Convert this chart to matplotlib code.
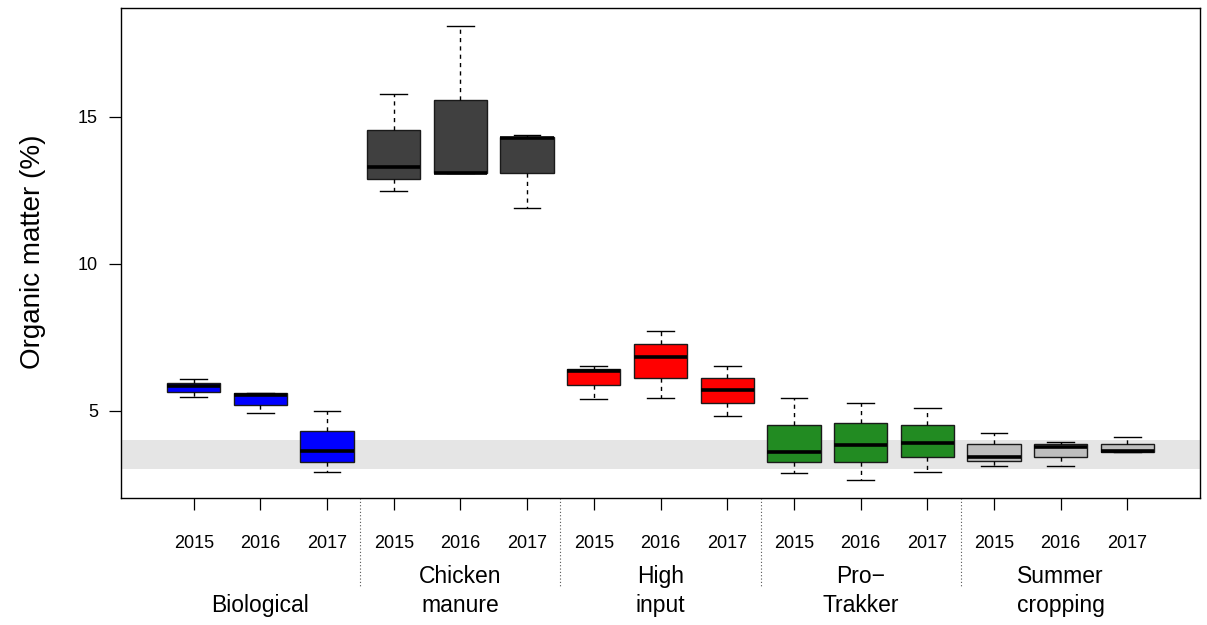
import matplotlib.pyplot as plt
from matplotlib.transforms import blended_transform_factory

plt.rcParams['font.family'] = ['Liberation Sans', 'DejaVu Sans']

# treatments, years and colours
groups = ['Biological', 'Chicken\nmanure', 'High\ninput', 'Pro\u2212\nTrakker', 'Summer\ncropping']
years = ['2015', '2016', '2017']
group_colors = ['#0000FF', '#404040', '#FF0000', '#228B22', '#BEBEBE']

# box statistics, one entry per box (group x year)
whis_lo = [5.46, 4.90, 2.91, 12.49, 13.08, 11.89, 5.40, 5.41, 4.81, 2.86, 2.64, 2.92, 3.12, 3.10, 3.57]
q1 = [5.63, 5.20, 3.26, 12.89, 13.08, 13.08, 5.86, 6.11, 5.25, 3.24, 3.24, 3.41, 3.28, 3.43, 3.57]
med = [5.84, 5.54, 3.62, 13.29, 13.10, 14.29, 6.36, 6.83, 5.70, 3.60, 3.83, 3.91, 3.42, 3.77, 3.61]
q3 = [5.95, 5.58, 4.31, 14.55, 15.59, 14.33, 6.43, 7.27, 6.11, 4.51, 4.56, 4.51, 3.86, 3.86, 3.87]
whis_hi = [6.08, 5.61, 5.00, 15.78, 18.09, 14.39, 6.51, 7.71, 6.51, 5.42, 5.27, 5.10, 4.25, 3.94, 4.11]

# reference band
band = (3, 4)

fig = plt.figure(figsize=(12.07, 6.25), dpi=100)
ax = fig.add_axes([121 / 1207, 1 - 498 / 625, 1079 / 1207, 490 / 625])

ax.axhspan(band[0], band[1], color='#E5E5E5', zorder=0, lw=0)

n = len(med)
pos = list(range(1, n + 1))
stats = [dict(whislo=whis_lo[i], q1=q1[i], med=med[i], q3=q3[i], whishi=whis_hi[i], fliers=[])
         for i in range(n)]
bp = ax.bxp(stats, positions=pos, widths=0.8, capwidths=0.4, patch_artist=True, showfliers=False,
            boxprops=dict(edgecolor='#1a1a1a', linewidth=1.0),
            medianprops=dict(color='black', linewidth=2.6, solid_capstyle='butt'),
            whiskerprops=dict(color='black', linestyle=(0, (3, 3)), linewidth=1.0),
            capprops=dict(color='black', linewidth=1.0))
for i, box in enumerate(bp['boxes']):
    box.set_facecolor(group_colors[i // len(years)])
    box.set_zorder(2)

ax.set_xlim(-0.09, 16.09)
ax.set_ylim(2.02, 18.71)

ax.set_yticks([5, 10, 15])
ax.set_yticklabels(['5', '10', '15'])
ax.set_xticks(pos)
ax.set_xticklabels(years * len(groups))
ax.tick_params(axis='y', length=8.6, width=0.9, labelsize=13, pad=8)
ax.tick_params(axis='x', length=8.6, width=0.9, labelsize=13, pad=18)
for s in ax.spines.values():
    s.set_linewidth(1.0)

trans = blended_transform_factory(ax.transData, ax.transAxes)
# dotted separators between treatments
for k in range(1, len(groups)):
    x = k * len(years) + 0.5
    ax.plot([x, x], [0, -0.182], transform=trans, clip_on=False,
            color='#555555', linestyle=(0, (1, 2)), linewidth=0.8)

# treatment labels, bottom line aligned
line_y = [-0.232, -0.1735]
for k, name in enumerate(groups):
    x = k * len(years) + 2
    for j, line in enumerate(reversed(name.split('\n'))):
        ax.text(x, line_y[j], line, transform=trans, ha='center', va='baseline',
                fontsize=16.5, clip_on=False)

fig.text(33 / 1207, 1 - 251.5 / 625, 'Organic matter (%)', rotation=90,
         ha='center', va='center', fontsize=20)

fig.savefig('out.png', dpi=100)
